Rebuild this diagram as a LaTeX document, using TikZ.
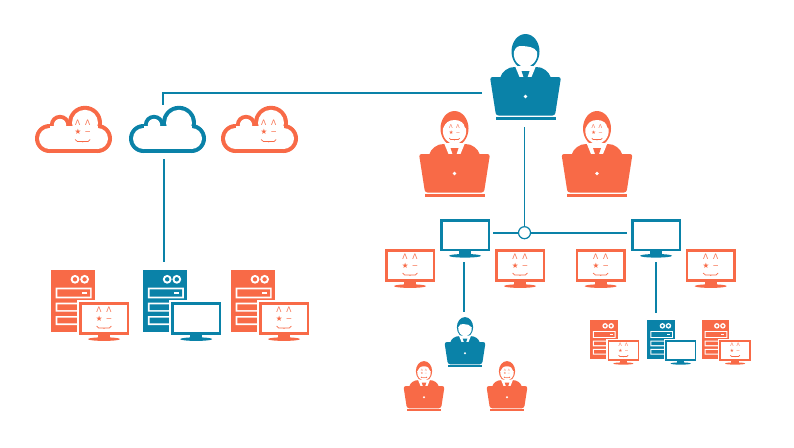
\documentclass[tikz,border=0pt]{standalone}
\usepackage{fontspec}
\newfontfamily\iconfont{DejaVu Sans}
\definecolor{iconblue}{HTML}{0A82A8}
\definecolor{iconorange}{HTML}{F86A47}
\tikzset{
  every pic/.style={transform shape},
  link/.style={draw=iconblue,line width=1.9pt},
  hit/.style={inner sep=0pt,outer sep=0pt,rectangle},
  hubdot/.style={circle,draw=iconblue,fill=white,line width=1.2pt,minimum size=12pt,inner sep=0pt},
  facetext/.style={font=\iconfont\fontsize{7.5}{7.5}\selectfont,text=iconorange,inner sep=0pt,transform shape,text height=5.4pt,text depth=0pt},
  pics/face/.style={code={
    \node[facetext] (-eyes) at (0,-9) {Λ\hspace{4.8pt}Λ};
    \node[facetext] (-nose) at (0,0) {★\hspace{3.2pt}−};
    \draw[iconorange,line width=.7pt] (-7.5,7.5) .. controls (-7,9) and (-6.5,9.4) .. (-5.5,9.4) -- (5.5,9.4) .. controls (6.5,9.4) and (7,9) .. (7.5,7.5) (0,9.4) -- (0,10.4);
  }},
  pics/laptopman/.style={code={
    \fill[#1] (0,-25.5) ellipse [x radius=14,y radius=17.5];
    \fill[#1] (-25,0) .. controls (-24,-5) and (-17,-10.5) .. (-10.5,-10) -- (10.5,-10) .. controls (17,-10.5) and (24,-5) .. (25,0) -- cycle;
    \fill[white] (-11.7,-25) .. controls (-10,-30) and (-7,-31.5) .. (-3,-31) .. controls (3,-30.5) and (9,-30) .. (11.7,-25) .. controls (12.5,-16) and (6,-10) .. (0,-10) .. controls (-6,-10) and (-12.5,-16) .. (-11.7,-25) -- cycle;
    \fill[white] (-10.5,-11) -- (10.5,-11) -- (6,0) -- (-6,0) -- cycle;
    \fill[#1] (-4,-6) -- (4,-6) -- (2,0) -- (-2,0) -- cycle;
    \fill[#1,rounded corners=2.5pt] (-35.5,0) -- (35.5,0) -- (29.5,38.5) -- (-29.5,38.5) -- cycle;
    \fill[white] (0,19.5) circle [radius=1.9];
    \fill[#1] (-30,40.2) rectangle (30,43);
  }},
  pics/facedman/.style={code={
    \pic (-man) {laptopman=iconorange};
    \fill[white] (0,-27) ellipse [x radius=10,y radius=7];
    \pic[scale=.7] (-face) at (0,-21) {face};
  }},
  pics/cloudicon/.style={code={
    \fill[#1] (24,9) circle [radius=14.5];
    \fill[#1] (11.5,-6.7) circle [radius=17];
    \fill[#1] (-13.5,-4.5) circle [radius=10.2];
    \fill[#1] (-24,9) circle [radius=14.5];
    \fill[#1] (-24,-6) rectangle (24,23.5);
    \fill[white] (24,9) circle [radius=10.5];
    \fill[white] (11.5,-6.7) circle [radius=13];
    \fill[white] (-13.5,-4.5) circle [radius=6.2];
    \fill[white] (-24,9) circle [radius=10.5];
    \fill[white] (-24,-4) rectangle (24,19.5);
  }},
  pics/monitor/.style={code={
    \fill[white] (-27,-18.2) rectangle (27,18.2);
    \fill[#1] (-25,-16.2) rectangle (25,16.2);
    \fill[white] (-22.5,-13.7) rectangle (22.5,13.5);
    \fill[#1] (-6,16) rectangle (6,19);
    \fill[#1] (0,20.6) ellipse [x radius=16,y radius=1.8];
  }},
  pics/facedmonitor/.style={code={
    \pic (-mon) {monitor=iconorange};
    \pic (-face) at (0,0) {face};
  }},
  pics/servertower/.style={code={
    \fill[#1] (0,0) rectangle (44,62);
    \fill[white] (24,9.3) circle [radius=4.4] (33.6,9.3) circle [radius=4.4];
    \fill[#1] (24,9.3) circle [radius=2.2] (33.6,9.3) circle [radius=2.2];
    \fill[white] (4.7,17.7) rectangle (40.7,28.3) (4.7,32.7) rectangle (40.7,41.7) (4.7,46) rectangle (40.7,55);
    \fill[#1] (6.4,19.4) rectangle (39,26.6) (6.4,34.4) rectangle (39,40) (6.4,47.7) rectangle (39,53.3);
    \fill[white] (31,22) rectangle (36,24);
  }},
  pics/serverblue/.style={code={
    \pic (-tower) {servertower=iconblue};
    \pic (-mon) at (53,48.5) {monitor=iconblue};
  }},
  pics/serverorange/.style={code={
    \pic (-tower) {servertower=iconorange};
    \pic (-mon) at (53,48.5) {facedmonitor};
  }},
}
\begin{document}
\begin{tikzpicture}[x=1pt,y=-1pt]
\path[use as bounding box,fill=white] (0,0) rectangle (794,447);
% clouds
\pic (cloudA) at (73.5,129.5) {cloudicon=iconorange};
\pic (cloudAface) at (82.7,132) {face};
\pic (cloudB) at (167.5,129.5) {cloudicon=iconblue};
\pic (cloudC) at (259.5,129.5) {cloudicon=iconorange};
\pic (cloudCface) at (268.7,132) {face};
% big servers
\pic (srvA) at (51,270) {serverorange};
\pic (srvB) at (143.2,270) {serverblue};
\pic (srvC) at (231,270) {serverorange};
% people
\pic (boss) at (525.5,77) {laptopman=iconblue};
\pic (manL) at (454.5,154) {facedman};
\pic (manR) at (597,154) {facedman};
\pic[scale=.58] (manLow) at (465,342) {laptopman=iconblue};
\pic[scale=.58] (manLowL) at (424,386) {facedman};
\pic[scale=.58] (manLowR) at (507,386) {facedman};
% monitors
\pic (monL) at (465,235.2) {monitor=iconblue};
\pic (monR) at (656,235.2) {monitor=iconblue};
\pic (monA) at (410,265.5) {facedmonitor};
\pic (monB) at (520,265.5) {facedmonitor};
\pic (monC) at (600.7,265.5) {facedmonitor};
\pic (monD) at (710.7,265.5) {facedmonitor};
% small servers
\pic[scale=.63] (srvSA) at (590,320) {serverorange};
\pic[scale=.63] (srvSB) at (647.3,320) {serverblue};
\pic[scale=.63] (srvSC) at (701.7,320) {serverorange};
% invisible anchors for connectors
\node[hit,minimum width=85pt,minimum height=68pt] (bossBox) at (524.5,93) {};
\node[hit,minimum width=10pt,minimum height=54pt] (cloudBox) at (164,132) {};
\node[hit,minimum width=10pt,minimum height=10pt] (srvBox) at (164,267) {};
\node[hit,minimum width=58pt,minimum height=58.6pt] (monLBox) at (464,232.7) {};
\node[hit,minimum width=58pt,minimum height=58.6pt] (monRBox) at (656,232.7) {};
\node[hit,minimum width=10pt,minimum height=10pt] (manLowBox) at (464,317) {};
\node[hit,minimum width=10pt,minimum height=10pt] (srvSBox) at (656,318) {};
\node[hubdot] (hub) at (524.5,232.7) {};
% connectors
\draw[link] (bossBox.west) -| ([xshift=-1pt]cloudBox.north);
\draw[link] (cloudBox.south) -- (srvBox.north);
\draw[link] (bossBox.south) -- (hub);
\draw[link] (monLBox.east) -- (hub);
\draw[link] (hub) -- (monRBox.west);
\draw[link] (monLBox.south) -- (manLowBox.north);
\draw[link] (monRBox.south) -- (srvSBox.north);
\end{tikzpicture}
\end{document}
